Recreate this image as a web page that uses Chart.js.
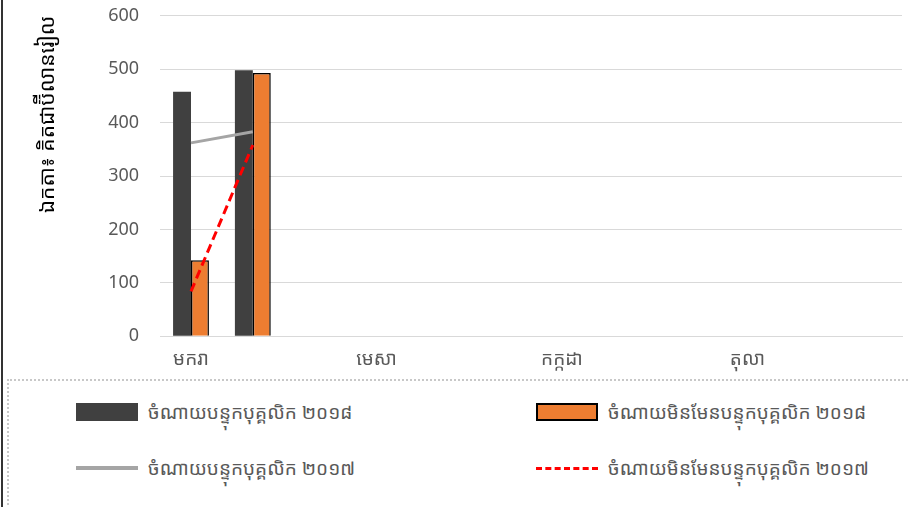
<!DOCTYPE html>
<html>
<head>
<meta charset="utf-8">
<script src="https://cdn.jsdelivr.net/npm/chart.js@4.4.1/dist/chart.umd.min.js"></script>
<style>
  body { margin: 0; background: #fff; font-family: "Noto Sans Khmer", "Khmer OS", "Noto Sans", sans-serif; }
  #wrap { position: relative; width: 909px; height: 507px; overflow: hidden; }
  #frame { position: absolute; left: 1px; top: 0; width: 2px; height: 507px; background: #333; }
  #chartBox { position: absolute; left: 0; top: -16px; width: 909px; height: 394px; }
  #legend { position: absolute; left: 7px; top: 379px; width: 902px; height: 128px;
            border-top: 2px dotted #c8c8c8; border-left: 2px dotted #c8c8c8; }
  .item { position: absolute; display: flex; align-items: center; font-size: 19px; color: #595959; white-space: nowrap; }
  .swatch { width: 62px; margin-right: 10px; }
</style>
</head>
<body>
<div id="wrap">
  <div id="chartBox"><canvas id="chart" width="909" height="394"></canvas></div>
  <div id="frame"></div>
  <div id="legend"></div>
</div>
<script>
const months = ["មករា", "កុម្ភៈ", "មីនា", "មេសា", "ឧសភា", "មិថុនា", "កក្កដា", "សីហា", "កញ្ញា", "តុលា", "វិច្ឆិកា", "ធ្នូ"];
const yTicks = [0, 100, 200, 300, 400, 500, 600];
const axisTitle = "ឯកតា៖ គិតជាប៊ីលានរៀល";

const seriesNames = [
  "ចំណាយបន្ទុកបុគ្គលិក ២០១៨",
  "ចំណាយមិនមែនបន្ទុកបុគ្គលិក ២០១៨",
  "ចំណាយបន្ទុកបុគ្គលិក ២០១៧",
  "ចំណាយមិនមែនបន្ទុកបុគ្គលិក ២០១៧"
];

const staff2018 = [458, 498, null, null, null, null, null, null, null, null, null, null];
const nonStaff2018 = [142, 493, null, null, null, null, null, null, null, null, null, null];
const staff2017 = [362, 383, null, null, null, null, null, null, null, null, null, null];
const nonStaff2017 = [84, 358, null, null, null, null, null, null, null, null, null, null];

const ctx = document.getElementById("chart").getContext("2d");
const fontFamily = "'Noto Sans Khmer', 'Khmer OS', 'Open Sans', 'Noto Sans', sans-serif";

const chart = new Chart(ctx, {
  data: {
    labels: months,
    datasets: [
      {
        type: "line",
        label: seriesNames[2],
        data: staff2017,
        borderColor: "#a5a5a5",
        borderWidth: 3,
        pointRadius: 0,
        order: 0,
      },
      {
        type: "line",
        label: seriesNames[3],
        data: nonStaff2017,
        borderColor: "#ff0000",
        borderWidth: 3,
        borderDash: [9, 5],
        pointRadius: 0,
        order: 0,
      },
      {
        type: "bar",
        label: seriesNames[0],
        data: staff2018,
        backgroundColor: "#404040",
        borderWidth: 0,
        categoryPercentage: 0.58,
        barPercentage: 1,
        order: 1,
      },
      {
        type: "bar",
        label: seriesNames[1],
        data: nonStaff2018,
        backgroundColor: "#ed7d31",
        borderColor: "#000",
        borderWidth: 1.5,
        categoryPercentage: 0.58,
        barPercentage: 1,
        order: 1,
      },
    ],
  },
  options: {
    responsive: false,
    animation: false,
    layout: { padding: { top: 0, right: 7, left: 31, bottom: 3 } },
    plugins: {
      legend: { display: false },
      tooltip: { enabled: false },
    },
    scales: {
      x: {
        grid: { display: false },
        border: { color: "#d9d9d9", width: 1 },
        ticks: {
          autoSkip: false,
          maxRotation: 0,
          color: "#595959",
          font: { family: fontFamily, size: 19 },
          padding: 4,
          callback: (value, i) => (i % 3 === 0 ? months[i] : ""),
        },
      },
      y: {
        min: yTicks[0],
        max: yTicks[yTicks.length - 1],
        afterBuildTicks: (axis) => {
          axis.ticks = yTicks.map((v) => ({ value: v }));
        },
        grid: { color: "#d9d9d9", drawTicks: false },
        border: { display: false },
        ticks: {
          color: "#595959",
          font: { family: fontFamily, size: 18 },
          padding: 21,
        },
        title: {
          display: true,
          text: axisTitle,
          align: "end",
          color: "#000",
          font: { family: fontFamily, size: 21 },
          padding: { bottom: 27 },
        },
      },
    },
  },
});

// legend below the chart, built from the datasets
const legendOrder = [2, 3, 0, 1];
const slots = [
  { left: 67, top: 18 }, { left: 527, top: 18 },
  { left: 67, top: 74 }, { left: 527, top: 74 },
];
const legendEl = document.getElementById("legend");
legendOrder.forEach((dsIndex, k) => {
  const ds = chart.data.datasets[dsIndex];
  const item = document.createElement("div");
  item.className = "item";
  item.style.left = slots[k].left + "px";
  item.style.top = slots[k].top + "px";
  const sw = document.createElement("div");
  sw.className = "swatch";
  if (ds.type === "bar") {
    sw.style.height = "18px";
    sw.style.background = ds.backgroundColor;
    sw.style.boxSizing = "border-box";
    if (ds.borderWidth) sw.style.border = "2px solid " + ds.borderColor;
  } else {
    sw.style.height = "0";
    sw.style.borderTop = (ds.borderDash ? "3px dashed " : "4px solid ") + ds.borderColor;
  }
  const label = document.createElement("span");
  label.textContent = ds.label;
  item.appendChild(sw);
  item.appendChild(label);
  legendEl.appendChild(item);
});
</script>
</body>
</html>
